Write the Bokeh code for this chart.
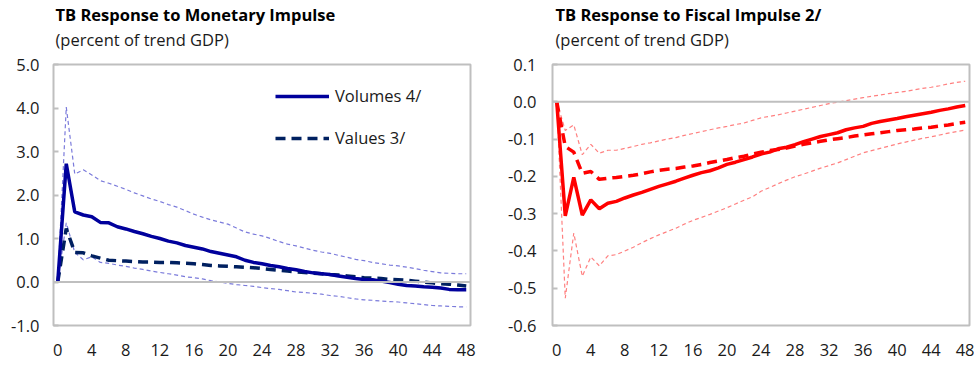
from bokeh.plotting import figure
from bokeh.layouts import row
from bokeh.models import Span, Title, Legend, LegendItem, FixedTicker, Range1d
from bokeh.embed import file_html
from bokeh.resources import INLINE

# ---------------- data ----------------
quarters = list(range(49))
x_ticks = [0, 4, 8, 12, 16, 20, 24, 28, 32, 36, 40, 44, 48]

mon_ticks = [-1.0, 0.0, 1.0, 2.0, 3.0, 4.0, 5.0]
mon_tick_labels = ["-1.0", "0.0", "1.0", "2.0", "3.0", "4.0", "5.0"]
fis_ticks = [-0.6, -0.5, -0.4, -0.3, -0.2, -0.1, 0.0, 0.1]
fis_tick_labels = ["-0.6", "-0.5", "-0.4", "-0.3", "-0.2", "-0.1", "0.0", "0.1"]

mon_volumes = [0, 2.72, 1.61, 1.54, 1.50, 1.37, 1.36, 1.27, 1.22, 1.16, 1.11, 1.05, 1.00,
               0.94, 0.90, 0.84, 0.80, 0.76, 0.70, 0.66, 0.62, 0.58, 0.50, 0.45, 0.42,
               0.38, 0.35, 0.31, 0.28, 0.24, 0.21, 0.19, 0.17, 0.14, 0.11, 0.08, 0.06,
               0.05, 0.02, -0.01, -0.05, -0.08, -0.09, -0.11, -0.12, -0.14, -0.17, -0.18, -0.18]
mon_values = [0, 1.23, 0.68, 0.67, 0.60, 0.55, 0.50, 0.49, 0.48, 0.47, 0.46, 0.46, 0.45,
              0.45, 0.44, 0.43, 0.42, 0.40, 0.38, 0.37, 0.36, 0.35, 0.34, 0.33, 0.31,
              0.29, 0.27, 0.25, 0.23, 0.22, 0.20, 0.19, 0.17, 0.16, 0.14, 0.12, 0.10,
              0.09, 0.08, 0.06, 0.05, 0.04, 0.02, 0.00, -0.02, -0.04, -0.05, -0.07, -0.09]
mon_upper = [0, 4.02, 2.48, 2.58, 2.46, 2.33, 2.27, 2.20, 2.13, 2.05, 1.98, 1.91, 1.85,
             1.78, 1.72, 1.64, 1.56, 1.49, 1.43, 1.38, 1.33, 1.24, 1.15, 1.10, 1.06,
             1.00, 0.93, 0.87, 0.83, 0.78, 0.73, 0.69, 0.66, 0.61, 0.57, 0.52, 0.49,
             0.45, 0.42, 0.39, 0.37, 0.34, 0.31, 0.27, 0.24, 0.21, 0.20, 0.19, 0.19]
mon_lower = [0, 1.36, 0.68, 0.51, 0.58, 0.45, 0.43, 0.39, 0.36, 0.32, 0.29, 0.25, 0.22,
             0.19, 0.16, 0.12, 0.10, 0.07, 0.03, 0.00, -0.03, -0.06, -0.08, -0.10, -0.13,
             -0.15, -0.17, -0.20, -0.23, -0.24, -0.26, -0.28, -0.31, -0.33, -0.36, -0.39, -0.41,
             -0.42, -0.44, -0.45, -0.46, -0.48, -0.50, -0.52, -0.54, -0.55, -0.56, -0.57, -0.57]

fis_solid = [0, -0.306, -0.203, -0.304, -0.263, -0.287, -0.272, -0.267, -0.258, -0.250, -0.243,
             -0.235, -0.227, -0.220, -0.213, -0.205, -0.197, -0.190, -0.185, -0.177, -0.168,
             -0.162, -0.155, -0.148, -0.140, -0.135, -0.126, -0.122, -0.115, -0.107, -0.100,
             -0.093, -0.088, -0.083, -0.075, -0.070, -0.066, -0.058, -0.053, -0.049, -0.045,
             -0.040, -0.036, -0.032, -0.028, -0.023, -0.019, -0.014, -0.010]
fis_dashed = [0, -0.120, -0.135, -0.192, -0.187, -0.208, -0.205, -0.203, -0.200, -0.197, -0.193,
              -0.188, -0.184, -0.181, -0.179, -0.175, -0.172, -0.168, -0.163, -0.159, -0.155,
              -0.150, -0.146, -0.140, -0.135, -0.131, -0.128, -0.124, -0.119, -0.114, -0.110,
              -0.106, -0.102, -0.099, -0.096, -0.092, -0.089, -0.086, -0.083, -0.080, -0.077,
              -0.075, -0.073, -0.070, -0.068, -0.065, -0.062, -0.058, -0.055]
fis_upper = [0, -0.077, -0.062, -0.142, -0.114, -0.138, -0.130, -0.130, -0.125, -0.120, -0.114,
             -0.110, -0.105, -0.100, -0.096, -0.090, -0.085, -0.080, -0.075, -0.070, -0.066,
             -0.061, -0.057, -0.050, -0.043, -0.039, -0.035, -0.030, -0.025, -0.020, -0.015,
             -0.010, -0.005, -0.001, 0.003, 0.007, 0.011, 0.015, 0.018, 0.022, 0.025,
             0.028, 0.032, 0.036, 0.039, 0.043, 0.048, 0.052, 0.055]
fis_lower = [0, -0.527, -0.352, -0.468, -0.416, -0.440, -0.413, -0.410, -0.400, -0.390, -0.378,
             -0.367, -0.357, -0.348, -0.339, -0.328, -0.318, -0.310, -0.302, -0.293, -0.284,
             -0.274, -0.264, -0.255, -0.240, -0.230, -0.220, -0.210, -0.201, -0.194, -0.186,
             -0.178, -0.171, -0.164, -0.155, -0.146, -0.137, -0.131, -0.125, -0.119, -0.113,
             -0.108, -0.103, -0.098, -0.094, -0.089, -0.084, -0.080, -0.076]

FONT = "Open Sans"
TXT = "#1a1a1a"
GRID = "#BFBFBF"
FS = "16.5px"


def base_fig(width, height, left, right, top, bottom, y0, y1, yticks, ylabels, ystand):
    p = figure(width=width, height=height, output_backend="svg", toolbar_location=None,
               x_range=Range1d(-0.5, 48.5), y_range=Range1d(y0, y1),
               min_border_left=left, min_border_right=right,
               min_border_top=top, min_border_bottom=bottom)
    p.grid.visible = False
    p.outline_line_color = GRID
    p.outline_line_width = 2
    p.background_fill_color = "white"
    p.border_fill_color = "white"
    p.xaxis.ticker = FixedTicker(ticks=x_ticks)
    p.yaxis.ticker = FixedTicker(ticks=yticks)
    p.yaxis.major_label_overrides = {t: l for t, l in zip(yticks, ylabels)}
    for ax in (p.xaxis[0], p.yaxis[0]):
        ax.axis_line_color = None
        ax.minor_tick_line_color = None
        ax.major_label_text_font = FONT
        ax.major_label_text_font_size = FS
        ax.major_label_text_color = TXT
    p.xaxis.major_tick_line_color = None
    p.xaxis.major_label_standoff = 12
    p.yaxis.major_tick_line_color = GRID
    p.yaxis.major_tick_line_width = 2
    p.yaxis.major_tick_in = 5
    p.yaxis.major_tick_out = 0
    p.yaxis.major_label_standoff = ystand
    p.add_layout(Span(location=0, dimension="width", line_color=GRID, line_width=2))
    return p


def add_titles(p, main, sub, offset):
    # spacer between frame and subtitle
    p.add_layout(Title(text=" ", text_font_size="1px", standoff=10), "above")
    p.add_layout(Title(text=sub, align="left", offset=offset, text_font=FONT,
                       text_font_size=FS, text_font_style="normal", text_color=TXT,
                       standoff=1), "above")
    p.add_layout(Title(text=main, align="left", offset=offset, text_font=FONT,
                       text_font_size=FS, text_font_style="bold", text_color="black",
                       standoff=0), "above")


# ---------------- left panel ----------------
p1 = base_fig(487, 367, 53, 17, 60, 42, -1.0, 5.0, mon_ticks, mon_tick_labels, 14)
band_c = "#7B7BDB"
p1.line(quarters, mon_upper, line_color=band_c, line_width=1.2, line_dash="4 3")
p1.line(quarters, mon_lower, line_color=band_c, line_width=1.2, line_dash="4 3")
r_val = p1.line(quarters, mon_values, line_color="#002060", line_width=3.5, line_dash="10 6")
r_vol = p1.line(quarters, mon_volumes, line_color="#00009C", line_width=3.5)

leg = Legend(items=[LegendItem(label="Volumes 4/", renderers=[r_vol]),
                    LegendItem(label="Values 3/", renderers=[r_val])],
             location=(222, 176), orientation="vertical",
             glyph_width=54, glyph_height=20, spacing=19, padding=0, margin=0,
             label_standoff=6, label_text_font=FONT, label_text_font_size=FS,
             label_text_color=TXT, border_line_color=None, background_fill_alpha=0)
p1.add_layout(leg)
add_titles(p1, "TB Response to Monetary Impulse", "(percent of trend GDP)", 2)

# ---------------- right panel ----------------
p2 = base_fig(487, 367, 65, 5, 63, 38, -0.6, 0.1, fis_ticks, fis_tick_labels, 16)
band_r = "#FF8080"
p2.line(quarters, fis_upper, line_color=band_r, line_width=1.2, line_dash="4 3")
p2.line(quarters, fis_lower, line_color=band_r, line_width=1.2, line_dash="4 3")
p2.line(quarters, fis_dashed, line_color="#FF0000", line_width=3.5, line_dash="10 6")
p2.line(quarters, fis_solid, line_color="#FF0000", line_width=3.5)
add_titles(p2, "TB Response to Fiscal Impulse 2/", "(percent of trend GDP)", 3)

layout = row(p1, p2)
open("out.html", "w").write(file_html(layout, INLINE))
